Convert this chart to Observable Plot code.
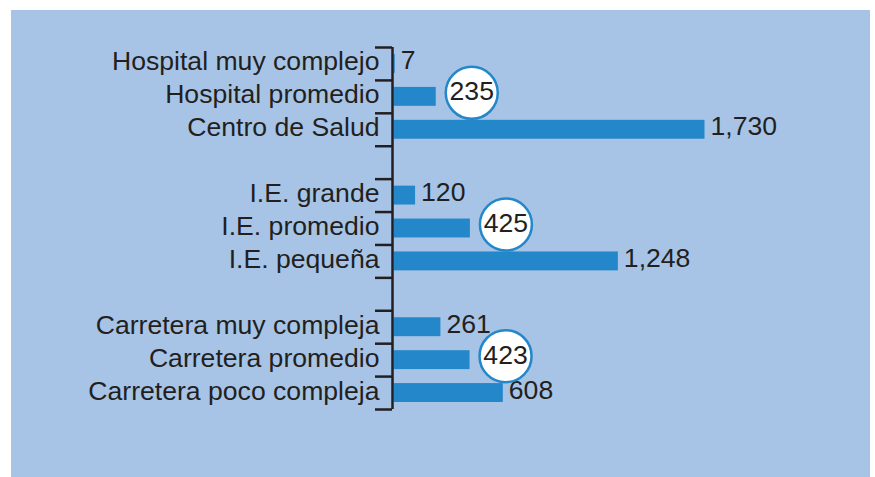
<!DOCTYPE html>
<html>
<head>
<meta charset="utf-8">
<script src="https://cdn.jsdelivr.net/npm/d3@7"></script>
<script src="https://cdn.jsdelivr.net/npm/@observablehq/plot@0.6"></script>
<style>
  html, body { margin: 0; padding: 0; background: #ffffff; }
  #chart { position: absolute; left: 11px; top: 10px; width: 859px; height: 467px; background: #a7c4e6; }
  #chart svg { display: block; }
</style>
</head>
<body>
<div id="chart"></div>
<script>
// Data
const categories = [
  "Hospital muy complejo", "Hospital promedio", "Centro de Salud",
  "I.E. grande", "I.E. promedio", "I.E. pequeña",
  "Carretera muy compleja", "Carretera promedio", "Carretera poco compleja"
];
const groups = [
  "Hospital", "Hospital", "Hospital",
  "I.E.", "I.E.", "I.E.",
  "Carretera", "Carretera", "Carretera"
];
const values = [7, 235, 1730, 120, 425, 1248, 261, 423, 608];
const circled = [false, true, false, false, true, false, false, true, false];

const groupOrder = [...new Set(groups)];
// row index: one blank row between groups
const rows = categories.map((c, i) => ({
  category: c,
  value: values[i],
  circled: circled[i],
  row: i + groupOrder.indexOf(groups[i])
}));
const nRows = categories.length + groupOrder.length - 1;
const bounds = d3.range(nRows + 1).map(k => k - 0.5);

const blue = "#2387c9";
const ink = "#231f20";
const fmt = d3.format(",");
const fs = 26.6;

const chart = Plot.plot({
  width: 859,
  height: 467,
  marginLeft: 381,
  marginRight: 167,
  marginTop: 37,
  marginBottom: 68,
  style: { background: "transparent", fontFamily: "'Liberation Sans', Arial, Helvetica, sans-serif", fontSize: fs + "px", color: ink, overflow: "visible" },
  x: { domain: [0, d3.max(values)], axis: null },
  y: { domain: [d3.min(bounds), d3.max(bounds)], reverse: true, axis: null },
  marks: [
    Plot.rectX(rows, { x1: 0, x2: "value", y1: d => d.row - 0.5, y2: d => d.row + 0.5, insetTop: 7, insetBottom: 7, fill: blue, dx: 1.5 }),
    Plot.axisY({ ticks: bounds, tickSize: 17, tickFormat: () => "", label: null, stroke: ink, strokeWidth: 2.5 }),
    Plot.ruleX([0], { y1: d3.min(bounds), y2: d3.max(bounds), stroke: ink, strokeWidth: 2.5 }),
    Plot.text(rows, { x: 0, y: "row", text: "category", textAnchor: "end", dx: -13, dy: -2, fill: ink, fontSize: fs }),
    Plot.text(rows.filter(d => !d.circled), { x: "value", y: "row", text: d => fmt(d.value), textAnchor: "start", dx: 7, dy: -3, fill: ink, fontSize: fs }),
    Plot.dot(rows.filter(d => d.circled), { x: "value", y: "row", r: 26, dx: 37, dy: -4, fill: "white", stroke: blue, strokeWidth: 2.5 }),
    Plot.text(rows.filter(d => d.circled), { x: "value", y: "row", text: d => fmt(d.value), textAnchor: "middle", dx: 37, dy: -5, fill: ink, fontSize: fs })
  ]
});
document.getElementById("chart").appendChild(chart);
</script>
</body>
</html>
